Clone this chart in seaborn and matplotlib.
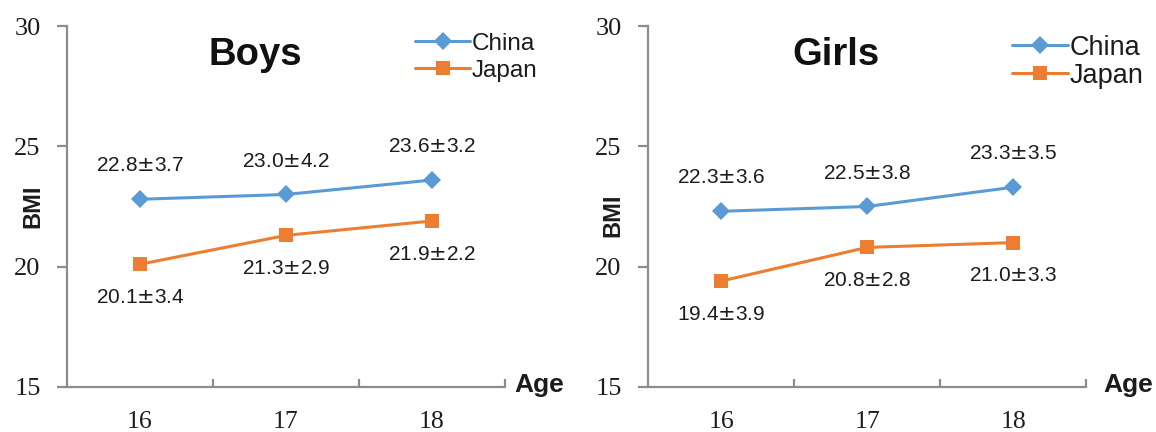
import matplotlib
matplotlib.use("Agg")
import matplotlib.pyplot as plt
from matplotlib.ticker import FixedLocator
import seaborn as sns
import pandas as pd

# BMI (mean ± SD) by age, China vs Japan
ages = [16, 17, 18]
countries = ["China", "Japan"]

boys_china_mean = [22.8, 23.0, 23.6]
boys_china_sd = [3.7, 4.2, 3.2]
boys_japan_mean = [20.1, 21.3, 21.9]
boys_japan_sd = [3.4, 2.9, 2.2]

girls_china_mean = [22.3, 22.5, 23.3]
girls_china_sd = [3.6, 3.8, 3.5]
girls_japan_mean = [19.4, 20.8, 21.0]
girls_japan_sd = [3.9, 2.8, 3.3]

y_ticks = [15, 20, 25, 30]

sns.set_style("white")
plt.rcParams["font.family"] = ["Liberation Sans", "DejaVu Sans"]
plt.rcParams["mathtext.fontset"] = "dejavusans"

palette = {"China": "#5B9BD5", "Japan": "#ED7D31"}
markers = {"China": "D", "Japan": "s"}
axis_grey = "#8c8c8c"
text_col = "#1c1c1c"


def frame(china_mean, china_sd, japan_mean, japan_sd):
    rows = []
    for c, m, s in (("China", china_mean, china_sd), ("Japan", japan_mean, japan_sd)):
        for a, mv, sv in zip(ages, m, s):
            rows.append({"Age": a, "BMI": mv, "SD": sv, "Country": c})
    return pd.DataFrame(rows)


fig = plt.figure(figsize=(11.56, 4.32), dpi=100)
ax_boys = fig.add_axes([0.05796, 0.1042, 0.3789, 0.8356])
ax_girls = fig.add_axes([0.5606, 0.1042, 0.3789, 0.8356])

# (axes, title, data, legend anchor, legend font, handle length, text pad, label gap,
#  "Age" x, "BMI" position)
panels = [
    (ax_boys, "Boys", frame(boys_china_mean, boys_china_sd, boys_japan_mean, boys_japan_sd),
     (0.795, 0.981), 17.5, 2.26, 0.08, 0.19, 1.0205, (-0.078, 0.50)),
    (ax_girls, "Girls", frame(girls_china_mean, girls_china_sd, girls_japan_mean, girls_japan_sd),
     (0.831, 0.976), 19.5, 2.07, 0.04, 0.07, 1.039, (-0.08, 0.476)),
]

for (ax, title, df, leg_pos, leg_fs, h_len, h_pad, l_gap, age_x, bmi_pos) in panels:
    sns.lineplot(data=df, x="Age", y="BMI", hue="Country", style="Country",
                 palette=palette, markers=markers, dashes=False,
                 linewidth=2.2, markersize=10, markeredgewidth=0, ax=ax)
    for line in ax.get_lines():
        if line.get_marker() == "D":
            line.set_markersize(9.5)

    for _, r in df.iterrows():
        dy = 24 if r["Country"] == "China" else -24
        ax.annotate(f"{r['BMI']:.1f}$\\pm${r['SD']:.1f}", (r["Age"], r["BMI"]),
                    xytext=(0, dy), textcoords="offset points",
                    ha="center", va="center", fontsize=15, color=text_col)

    ax.set_xlim(15.5, 18.5)
    ax.set_ylim(15, 30)
    ax.set_xticks(ages)
    ax.set_xticklabels([str(a) for a in ages], fontfamily="Liberation Serif",
                       fontsize=18.5, color=text_col)
    ax.xaxis.set_minor_locator(FixedLocator([16.5, 17.5, 18.5]))
    ax.tick_params(axis="x", which="major", length=0, pad=17)
    ax.tick_params(axis="x", which="minor", direction="in", length=6,
                   width=1.6, color=axis_grey, bottom=True)
    ax.set_yticks(y_ticks)
    ax.set_yticklabels([str(t) for t in y_ticks], fontfamily="Liberation Serif",
                       fontsize=19, color=text_col)
    ax.tick_params(axis="y", which="major", direction="out", length=7,
                   width=1.6, color=axis_grey, left=True, pad=12)

    for side in ("top", "right"):
        ax.spines[side].set_visible(False)
    for side in ("left", "bottom"):
        ax.spines[side].set_color(axis_grey)
        ax.spines[side].set_linewidth(1.6)

    ax.set_xlabel("")
    ax.set_ylabel("")
    ax.text(bmi_pos[0], bmi_pos[1], "BMI", transform=ax.transAxes, rotation=90,
            ha="center", va="center", fontsize=17, fontweight="bold", color=text_col)
    ax.text(age_x, 0.005, "Age", transform=ax.transAxes, ha="left", va="center",
            fontsize=19, fontweight="bold", color=text_col)
    ax.text(0.429, 0.92, title, transform=ax.transAxes, ha="center", va="center",
            fontsize=27.5, fontweight="bold", color="#111111")

    ax.legend(loc="upper left", bbox_to_anchor=leg_pos, frameon=False,
              fontsize=leg_fs, handlelength=h_len, handletextpad=h_pad,
              labelspacing=l_gap, borderpad=0, borderaxespad=0)
    for t in ax.get_legend().get_texts():
        t.set_color(text_col)

fig.savefig("out.png", dpi=100)
